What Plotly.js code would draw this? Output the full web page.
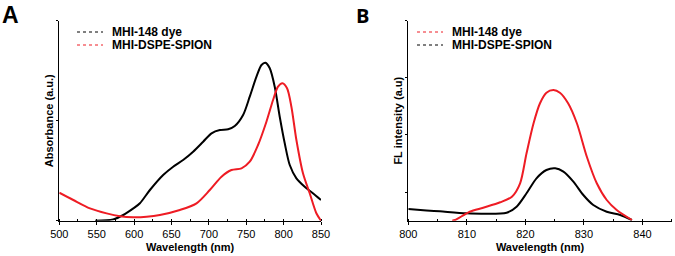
<!DOCTYPE html>
<html>
<head>
<meta charset="utf-8">
<script src="https://cdn.plot.ly/plotly-3.0.1.min.js"></script>
<style>html,body{margin:0;padding:0;background:#fff}#chart{width:675px;height:256px}</style>
</head>
<body>
<div id="chart"></div>
<script>
// Panel A: absorbance
const absDyeX = [548, 572, 585.6, 599, 607.8, 621.2, 638.9, 652.3, 665.6, 679, 692.4, 703.6, 714.7, 725.8, 734.7, 745.8, 754.7, 763.7, 770.4, 775.7, 781.5, 788.1, 794.8, 801.5, 808.2, 817.1, 828.2, 840, 850];
const absDyeY = [0, 0.013, 0.057, 0.123, 0.174, 0.307, 0.457, 0.54, 0.607, 0.69, 0.79, 0.874, 0.907, 0.914, 0.947, 1.057, 1.24, 1.44, 1.557, 1.58, 1.524, 1.34, 1.04, 0.774, 0.557, 0.424, 0.34, 0.27, 0.207];
const absSpionX = [500, 518.7, 541, 563.3, 581.2, 599, 616.8, 634.5, 661.2, 683.5, 701.3, 716.9, 730.3, 743.7, 754.7, 765.8, 777, 785.9, 792.5, 798.4, 804.6, 810.4, 817.1, 825.9, 834.9, 843.8, 850];
const absSpionY = [0.28, 0.207, 0.123, 0.073, 0.045, 0.035, 0.04, 0.057, 0.107, 0.174, 0.307, 0.44, 0.507, 0.524, 0.59, 0.757, 0.99, 1.207, 1.34, 1.374, 1.324, 1.14, 0.807, 0.474, 0.274, 0.074, 0];
// Panel B: fluorescence
const flDyeX = [807.5, 808, 810.5, 812.8, 815.7, 817.7, 819.1, 820.2, 821.4, 822.5, 823.6, 824.8, 825.9, 827.3, 828.8, 830.5, 832.2, 833.9, 835.6, 838.2];
const flDyeY = [-0.5, -0.488, -0.343, -0.272, -0.178, -0.08, 0.155, 0.68, 1.205, 1.555, 1.74, 1.787, 1.74, 1.555, 1.205, 0.62, 0.155, -0.138, -0.313, -0.488];
const flSpionX = [800, 803.1, 805.4, 810, 816.8, 818.5, 820.2, 821.9, 823.6, 825.1, 826.5, 828.2, 829.9, 831.6, 833.9, 836.2, 838.2];
const flSpionY = [-0.297, -0.32, -0.335, -0.37, -0.36, -0.255, -0.02, 0.242, 0.387, 0.417, 0.358, 0.183, -0.05, -0.225, -0.343, -0.4, -0.488];

const seriesNames = ["MHI-148 dye", "MHI-DSPE-SPION"];
const xTicksA = [500, 550, 600, 650, 700, 750, 800, 850];
const xTicksB = [800, 810, 820, 830, 840];

const RED = "#ee1c24", BLACK = "#000000";
const FONT = "Liberation Sans, Arial, sans-serif";

const traces = [
  {x: absDyeX, y: absDyeY, xaxis: "x", yaxis: "y", mode: "lines", line: {color: BLACK, width: 2, shape: "spline", smoothing: 0.8}, name: seriesNames[0]},
  {x: absSpionX, y: absSpionY, xaxis: "x", yaxis: "y", mode: "lines", line: {color: RED, width: 2, shape: "spline", smoothing: 0.8}, name: seriesNames[1]},
  {x: flSpionX, y: flSpionY, xaxis: "x2", yaxis: "y2", mode: "lines", line: {color: BLACK, width: 2, shape: "spline", smoothing: 0.8}, name: seriesNames[1]},
  {x: flDyeX, y: flDyeY, xaxis: "x2", yaxis: "y2", mode: "lines", line: {color: RED, width: 2, shape: "spline", smoothing: 0.8}, name: seriesNames[0]}
];

const W = 675, H = 256;
const px = v => v / W, py = v => 1 - v / H;
const yDom = [py(220.7), py(20.7)];

const titleFont = {family: FONT, size: 11, color: "#000", weight: "bold"};
const xBase = {
  showline: true, linecolor: "#000", linewidth: 1, zeroline: false, showgrid: false,
  ticks: "outside", ticklen: 3, tickcolor: "#000", tickwidth: 1,
  tickfont: {family: FONT, size: 11, color: "#000"},
  title: {text: "Wavelength (nm)", font: titleFont, standoff: 4},
  fixedrange: true
};
const yBase = {
  showline: true, linecolor: "#000", linewidth: 1, zeroline: false, showgrid: false,
  ticks: "outside", ticklen: 2, tickcolor: "#000", showticklabels: false,
  fixedrange: true
};

const legFont = {family: FONT, size: 12, color: "#000"};
const row1 = 32, row2 = 45;

const layout = {
  width: W, height: H,
  margin: {l: 0, r: 0, t: 0, b: 0},
  paper_bgcolor: "#fff", plot_bgcolor: "rgba(0,0,0,0)",
  showlegend: false,
  xaxis: Object.assign({}, xBase, {domain: [px(59.3), px(321)], range: [500, 850], tickvals: xTicksA, anchor: "y",
    minor: {ticks: "inside", ticklen: 2, dtick: 25, tick0: 500, tickcolor: "#000"}}),
  yaxis: Object.assign({}, yBase, {domain: yDom, range: [0, 2], tick0: 0, dtick: 1, anchor: "x",
    title: {text: "Absorbance (a.u.)", font: titleFont, standoff: 0}}),
  xaxis2: Object.assign({}, xBase, {domain: [px(408.3), px(671.7)], range: [800, 845], tickvals: xTicksB, anchor: "y2",
    minor: {ticks: "inside", ticklen: 2, dtick: 5, tick0: 800, tickcolor: "#000"}}),
  yaxis2: Object.assign({}, yBase, {domain: yDom, range: [-0.5, 3], tick0: 0, dtick: 1, anchor: "x2",
    title: {text: "FL intensity (a.u)", font: titleFont, standoff: 0}}),
  shapes: [
    {type: "line", xref: "paper", yref: "paper", x0: px(77), x1: px(103), y0: py(row1), y1: py(row1), line: {color: BLACK, width: 1, dash: "dot"}},
    {type: "line", xref: "paper", yref: "paper", x0: px(77), x1: px(103), y0: py(row2), y1: py(row2), line: {color: RED, width: 1, dash: "dot"}},
    {type: "line", xref: "paper", yref: "paper", x0: px(417), x1: px(443), y0: py(row1), y1: py(row1), line: {color: RED, width: 1, dash: "dot"}},
    {type: "line", xref: "paper", yref: "paper", x0: px(417), x1: px(443), y0: py(row2), y1: py(row2), line: {color: BLACK, width: 1, dash: "dot"}}
  ],
  annotations: [
    {text: "<b>A</b>", xref: "paper", yref: "paper", x: px(0), y: py(0), xanchor: "left", yanchor: "top", showarrow: false, font: {family: FONT, size: 23, color: "#000"}},
    {text: "<b>B</b>", xref: "paper", yref: "paper", x: px(354), y: py(0), xanchor: "left", yanchor: "top", showarrow: false, font: {family: "Open Sans, sans-serif", size: 20, color: "#000"}},
    {text: "<b>" + seriesNames[0] + "</b>", xref: "paper", yref: "paper", x: px(110), y: py(row1), xanchor: "left", yanchor: "middle", showarrow: false, font: legFont},
    {text: "<b>" + seriesNames[1] + "</b>", xref: "paper", yref: "paper", x: px(110), y: py(row2), xanchor: "left", yanchor: "middle", showarrow: false, font: legFont},
    {text: "<b>" + seriesNames[0] + "</b>", xref: "paper", yref: "paper", x: px(450), y: py(row1), xanchor: "left", yanchor: "middle", showarrow: false, font: legFont},
    {text: "<b>" + seriesNames[1] + "</b>", xref: "paper", yref: "paper", x: px(450), y: py(row2), xanchor: "left", yanchor: "middle", showarrow: false, font: legFont}
  ]
};

Plotly.newPlot("chart", traces, layout, {displayModeBar: false, staticPlot: true});
</script>
</body>
</html>
